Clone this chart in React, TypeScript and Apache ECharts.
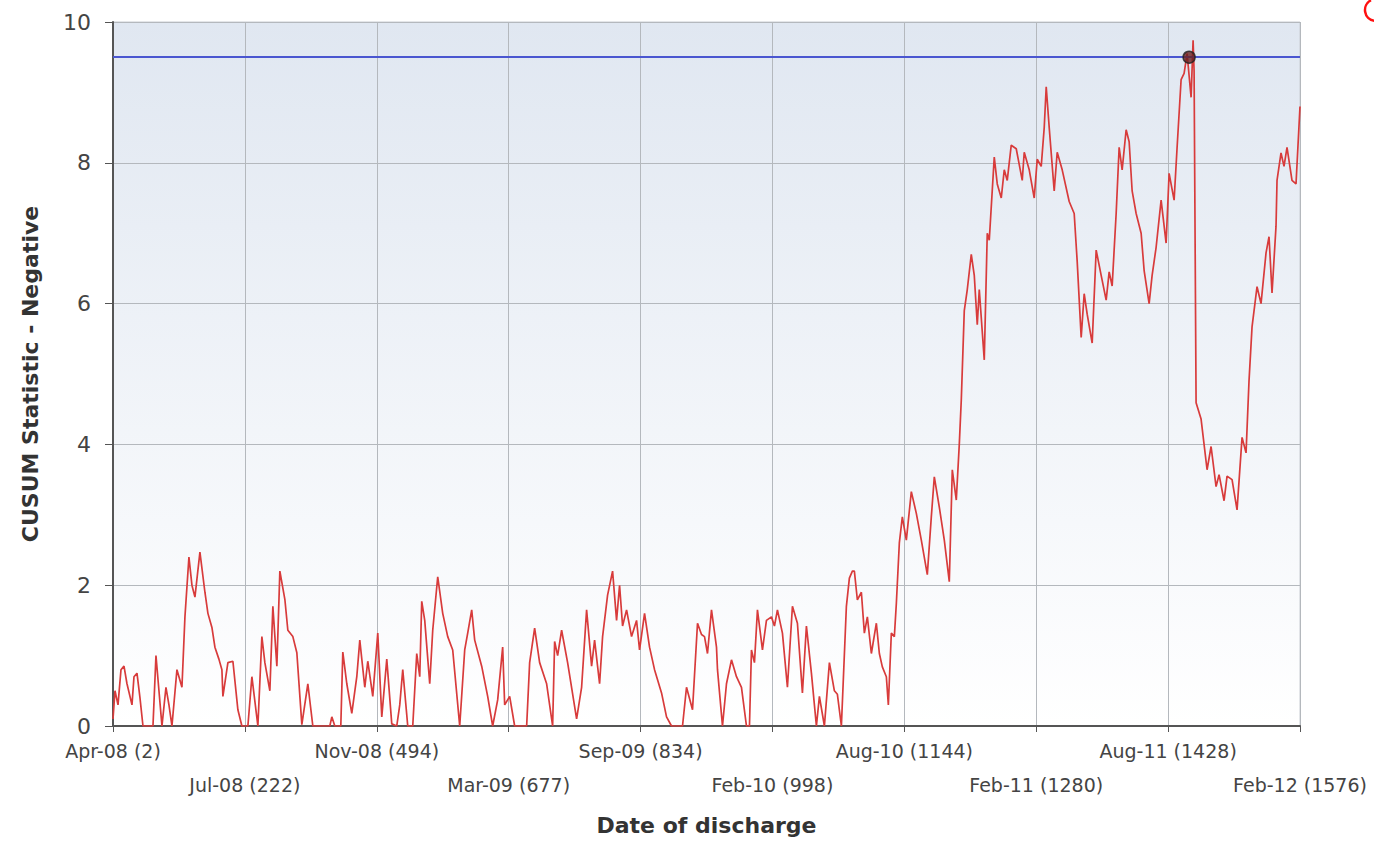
import React, { useEffect, useRef } from "react";
import * as echarts from "echarts";

// x positions in sample units along the axis (0 .. 1188), y = CUSUM statistic
const xPos = [
  0, 2, 5, 8, 11, 14, 19, 21, 24, 27, 30, 40, 43, 46, 49, 53, 56, 59, 64, 69,
  72, 76, 79, 82, 87, 92, 95, 99, 102, 106, 109, 110, 115, 120, 125, 129, 135, 139, 145, 149,
  152, 157, 160, 164, 167, 172, 175, 180, 184, 189, 195, 200, 217, 219, 222, 228, 230, 234, 239, 244,
  247, 252, 255, 260, 265, 269, 274, 279, 284, 287, 290, 295, 300, 304, 307, 309, 312, 317, 320, 325,
  330, 335, 340, 347, 352, 355, 359, 362, 369, 375, 380, 385, 390, 392, 397, 402, 414, 417, 422, 427,
  434, 440, 442, 445, 449, 455, 464, 469, 474, 479, 482, 487, 490, 495, 500, 504, 507, 510, 514, 519,
  524, 527, 532, 537, 542, 549, 554, 559, 570, 574, 580, 585, 589, 592, 595, 599, 604, 605, 610, 614,
  619, 624, 629, 634, 637, 639, 642, 645, 650, 654, 659, 662, 665, 670, 675, 680, 685, 690, 694, 699,
  704, 707, 712, 717, 722, 725, 729, 734, 737, 740, 742, 745, 749, 752, 755, 759, 764, 767, 770, 774,
  776, 779, 782, 784, 787, 790, 794, 799, 804, 809, 815, 819, 822, 827, 832, 837, 840, 844, 847, 849,
  852, 855, 859, 862, 865, 867, 872, 875, 877, 882, 885, 889, 892, 895, 899, 904, 910, 912, 917, 922,
  925, 929, 932, 934, 937, 942, 945, 950, 957, 962, 965, 969, 972, 975, 980, 984, 989, 994, 997, 1000,
  1004, 1007, 1010, 1014, 1017, 1020, 1024, 1029, 1032, 1037, 1040, 1044, 1049, 1054, 1057, 1062, 1065, 1069, 1072, 1075,
  1079, 1081, 1082, 1084, 1089, 1095, 1099, 1104, 1107, 1112, 1115, 1120, 1125, 1130, 1134, 1137, 1140, 1145, 1149, 1154,
  1157, 1160, 1164, 1165, 1169, 1172, 1175, 1180, 1184, 1188,
];

const cusum = [
  0.1, 0.5, 0.3, 0.8, 0.85, 0.6, 0.3, 0.7, 0.75, 0.4, 0, 0, 1.0, 0.5, 0, 0.55, 0.3, 0, 0.8, 0.55,
  1.55, 2.4, 2.0, 1.83, 2.47, 1.9, 1.6, 1.4, 1.12, 0.95, 0.8, 0.42, 0.9, 0.92, 0.23, 0, 0, 0.7, 0, 1.27,
  0.9, 0.5, 1.7, 0.85, 2.2, 1.8, 1.36, 1.27, 1.04, 0.02, 0.6, 0, 0, 0.13, 0, 0, 1.05, 0.6, 0.18, 0.7,
  1.22, 0.55, 0.92, 0.42, 1.32, 0.13, 0.95, 0.03, 0, 0.3, 0.8, 0, 0, 1.03, 0.7, 1.77, 1.5, 0.6, 1.36, 2.12,
  1.6, 1.27, 1.08, 0, 1.08, 1.32, 1.65, 1.22, 0.85, 0.42, 0, 0.37, 1.12, 0.3, 0.42, 0, 0, 0.9, 1.39, 0.9,
  0.6, 0, 1.2, 1.0, 1.36, 0.9, 0.1, 0.55, 1.65, 0.85, 1.22, 0.6, 1.27, 1.86, 2.2, 1.5, 2.0, 1.42, 1.65, 1.27,
  1.5, 1.08, 1.6, 1.12, 0.8, 0.47, 0.13, 0, 0, 0.55, 0.23, 1.46, 1.3, 1.27, 1.03, 1.65, 1.12, 0.8, 0, 0.6,
  0.94, 0.7, 0.55, 0, 0, 1.08, 0.9, 1.65, 1.08, 1.5, 1.55, 1.42, 1.65, 1.32, 0.55, 1.7, 1.46, 0.47, 1.42, 0.75,
  0, 0.42, 0, 0.9, 0.5, 0.45, 0, 1.7, 2.1, 2.2, 2.2, 1.79, 1.9, 1.32, 1.55, 1.03, 1.46, 1.03, 0.84, 0.7,
  0.3, 1.32, 1.27, 1.74, 2.6, 2.97, 2.64, 3.33, 3.02, 2.64, 2.15, 2.97, 3.54, 3.11, 2.64, 2.05, 3.64, 3.21, 4.0, 4.63,
  5.9, 6.2, 6.7, 6.4, 5.7, 6.2, 5.2, 7.0, 6.9, 8.08, 7.7, 7.5, 7.9, 7.75, 8.25, 8.2, 7.75, 8.15, 7.9, 7.5,
  8.05, 7.95, 8.5, 9.08, 8.5, 7.6, 8.15, 7.9, 7.45, 7.28, 6.6, 5.52, 6.14, 5.85, 5.44, 6.76, 6.4, 6.05, 6.45, 6.25,
  7.28, 8.22, 7.9, 8.47, 8.3, 7.6, 7.28, 7.0, 6.47, 6.0, 6.4, 6.8, 7.47, 6.86, 7.85, 7.47, 8.22, 9.18, 9.27, 9.55,
  8.93, 9.74, 9.3, 4.59, 4.36, 3.64, 3.97, 3.4, 3.57, 3.2, 3.55, 3.5, 3.07, 4.1, 3.88, 4.91, 5.67, 6.24, 6.0, 6.72,
  6.95, 6.15, 7.1, 7.75, 8.14, 7.95, 8.22, 7.75, 7.7, 8.8,
];

const tickLabels = [
  "Apr-08 (2)",
  "Jul-08 (222)",
  "Nov-08 (494)",
  "Mar-09 (677)",
  "Sep-09 (834)",
  "Feb-10 (998)",
  "Aug-10 (1144)",
  "Feb-11 (1280)",
  "Aug-11 (1428)",
  "Feb-12 (1576)",
];

const threshold = 9.5;
const signalPoint = [1077, 9.5];

const X_MAX = 1188;
const X_STEP = 132;

export default function App() {
  const ref = useRef<HTMLDivElement>(null);

  useEffect(() => {
    if (!ref.current) return;
    const chart = echarts.init(ref.current, null, { renderer: "svg" });
    const lineData = xPos.map((x, i) => [x, cusum[i]]);
    const labelFor = (parity: number) => (v: number) => {
      const i = Math.round(v / X_STEP);
      return i % 2 === parity ? tickLabels[i] ?? "" : "";
    };
    const labelBase = {
      showMinLabel: true,
      showMaxLabel: true,
      hideOverlap: false,
      margin: 15,
      fontSize: 19,
      color: "#444",
    };
    chart.setOption({
      animation: false,
      backgroundColor: "#ffffff",
      textStyle: { fontFamily: "DejaVu Sans" },
      grid: {
        left: 113,
        right: 74,
        top: 22,
        bottom: 117,
        show: true,
        borderColor: "#c8ccd2",
        borderWidth: 1,
        backgroundColor: {
          type: "linear",
          x: 0,
          y: 0,
          x2: 0,
          y2: 1,
          colorStops: [
            { offset: 0, color: "#e0e7f1" },
            { offset: 1, color: "#ffffff" },
          ],
        },
      },
      xAxis: [
        {
          type: "value",
          min: 0,
          max: X_MAX,
          interval: X_STEP,
          name: "Date of discharge",
          nameLocation: "middle",
          nameGap: 88,
          nameTextStyle: { fontSize: 22, fontWeight: "bold", color: "#333" },
          axisLine: { show: true, lineStyle: { color: "#555", width: 2 } },
          axisTick: { show: true, length: 6, lineStyle: { color: "#555", width: 1 } },
          splitLine: { show: true, lineStyle: { color: "#b4b8bd", width: 1 } },
          axisLabel: { ...labelBase, formatter: labelFor(0) },
        },
        {
          type: "value",
          position: "bottom",
          offset: 34,
          min: 0,
          max: X_MAX,
          interval: X_STEP,
          axisLine: { show: false },
          axisTick: { show: false },
          splitLine: { show: false },
          axisLabel: { ...labelBase, formatter: labelFor(1) },
        },
      ],
      yAxis: {
        type: "value",
        min: 0,
        max: 10,
        interval: 2,
        name: "CUSUM Statistic - Negative",
        nameLocation: "middle",
        nameGap: 72,
        nameRotate: 90,
        nameTextStyle: { fontSize: 22, fontWeight: "bold", color: "#333" },
        axisLine: { show: true, lineStyle: { color: "#555", width: 2 } },
        axisTick: { show: true, length: 8, lineStyle: { color: "#555", width: 1 } },
        splitLine: { show: true, lineStyle: { color: "#b4b8bd", width: 1 } },
        axisLabel: { fontSize: 22, color: "#444", margin: 22 },
      },
      series: [
        {
          type: "line",
          xAxisIndex: 0,
          data: lineData,
          symbol: "none",
          lineStyle: { color: "#d83b3b", width: 1.7 },
          markLine: {
            silent: true,
            symbol: ["none", "none"],
            label: { show: false },
            lineStyle: { color: "#4a56d0", width: 2, type: "solid" },
            data: [{ yAxis: threshold }],
          },
          z: 3,
        },
        {
          type: "scatter",
          xAxisIndex: 0,
          data: [signalPoint],
          symbol: "circle",
          symbolSize: 12,
          itemStyle: { color: "#6a2020", borderColor: "#222", borderWidth: 1.5 },
          z: 5,
        },
      ],
      graphic: [
        {
          type: "arc",
          shape: { cx: 1376, cy: 10, r: 11, startAngle: Math.PI * 0.55, endAngle: Math.PI * 1.35, clockwise: true },
          style: { stroke: "#ff1010", lineWidth: 2.5, fill: "none" },
        },
      ],
    });
    return () => chart.dispose();
  }, []);

  return (
    <div
      ref={ref}
      style={{ position: "fixed", left: 0, top: 0, width: 1374, height: 843 }}
    />
  );
}
